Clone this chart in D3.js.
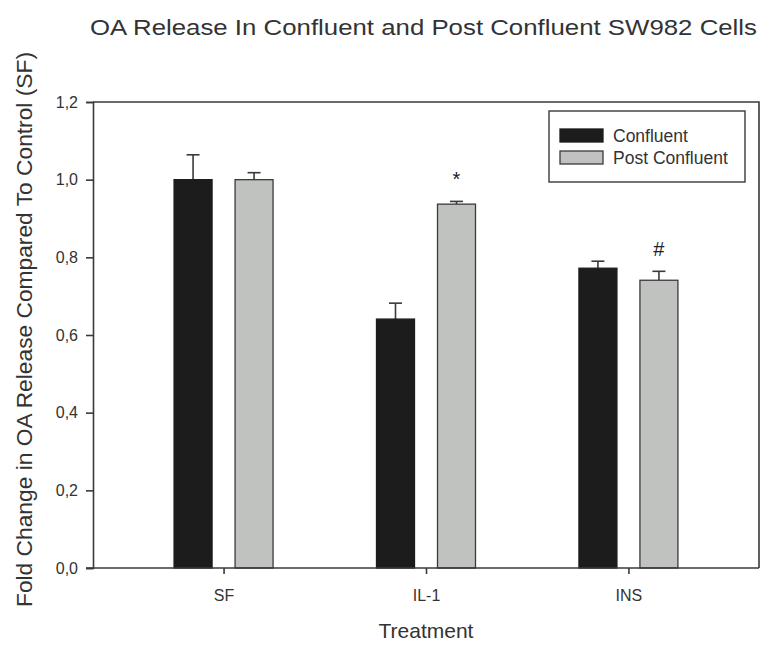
<!DOCTYPE html>
<html>
<head>
<meta charset="utf-8">
<script src="https://cdn.jsdelivr.net/npm/d3@7"></script>
<style>
  html, body { margin: 0; padding: 0; background: #fff; }
  svg { display: block; font-family: "Liberation Sans", Arial, sans-serif; }
</style>
</head>
<body>
<svg id="chart" width="763" height="646"></svg>
<script>
// Treatments and series
const treatments = ["SF", "IL-1", "INS"];
const seriesNames = ["Confluent", "Post Confluent"];
const confluentMean = [1.0, 0.641, 0.772];
const confluentErr = [0.064, 0.041, 0.018];
const postMean = [1.0, 0.937, 0.741];
const postErr = [0.018, 0.007, 0.023];
const significance = ["", "*", "#"];
const yTicks = [0, 0.2, 0.4, 0.6, 0.8, 1.0, 1.2];

const svg = d3.select("#chart");
const plot = { left: 93, right: 759, top: 102, bottom: 568 };
const axisColor = "#3a3a3a";
const textColor = "#333";

const x = d3.scalePoint().domain(treatments).range([plot.left, plot.right]).padding(0.645);
const y = d3.scaleLinear().domain([0, 1.2]).range([plot.bottom, plot.top]);
const barW = 38, offset = 30.5;

const rows = [];
treatments.forEach((t, i) => {
  rows.push({ t, s: 0, v: confluentMean[i], e: confluentErr[i], mark: "" });
  rows.push({ t, s: 1, v: postMean[i], e: postErr[i], mark: significance[i] });
});
const fills = ["#1c1c1c", "#c0c2c0"];
const strokes = ["#1c1c1c", "#3a3a3a"];
const cx = d => x(d.t) + (d.s === 0 ? -offset : offset);

// Error bars (upper only)
const eb = svg.append("g").attr("stroke", axisColor).attr("stroke-width", 1.6);
eb.selectAll("line.v").data(rows).join("line").attr("class", "v")
  .attr("x1", cx).attr("x2", cx)
  .attr("y1", d => y(d.v)).attr("y2", d => y(d.v + d.e));
eb.selectAll("line.c").data(rows).join("line").attr("class", "c")
  .attr("x1", d => cx(d) - 6.5).attr("x2", d => cx(d) + 6.5)
  .attr("y1", d => y(d.v + d.e)).attr("y2", d => y(d.v + d.e));

// Bars
svg.append("g").selectAll("rect").data(rows).join("rect")
  .attr("x", d => cx(d) - barW / 2)
  .attr("y", d => y(d.v))
  .attr("width", barW)
  .attr("height", d => y(0) - y(d.v))
  .attr("fill", d => fills[d.s])
  .attr("stroke", d => strokes[d.s])
  .attr("stroke-width", 1.3);

// Significance marks
svg.append("g").selectAll("text").data(rows.filter(d => d.mark)).join("text")
  .attr("x", cx)
  .attr("y", d => y(d.v + d.e) - 15)
  .attr("text-anchor", "middle")
  .attr("font-size", 20)
  .attr("fill", "#222")
  .text(d => d.mark);

// Frame (top and right)
svg.append("path")
  .attr("d", `M${plot.left},${plot.top}H${plot.right}V${plot.bottom}`)
  .attr("fill", "none").attr("stroke", axisColor).attr("stroke-width", 1.6);

// Y axis
const yAxis = svg.append("g").attr("transform", `translate(${plot.left},0)`)
  .call(d3.axisLeft(y).tickValues(yTicks).tickSize(7).tickPadding(8)
    .tickFormat(d => d3.format(".1f")(d).replace(".", ",")));
yAxis.attr("font-size", null).attr("font-family", null);
yAxis.select(".domain").attr("stroke", axisColor).attr("stroke-width", 1.6);
yAxis.selectAll(".tick line").attr("stroke", axisColor).attr("stroke-width", 1.6);
yAxis.selectAll(".tick text").style("font-size", "16px").attr("fill", textColor);

// X axis
const xAxis = svg.append("g").attr("transform", `translate(0,${plot.bottom})`)
  .call(d3.axisBottom(x).tickSize(6).tickPadding(16));
xAxis.attr("font-size", null).attr("font-family", null);
xAxis.select(".domain").attr("d", `M${plot.left - 7},0H${plot.right}`)
  .attr("stroke", axisColor).attr("stroke-width", 1.6);
xAxis.selectAll(".tick line").attr("stroke", axisColor).attr("stroke-width", 1.6);
xAxis.selectAll(".tick text").style("font-size", "16px").attr("fill", textColor);

// Titles
svg.append("text").attr("x", 90).attr("y", 35)
  .attr("font-size", 22.5).attr("fill", textColor)
  .attr("textLength", 667).attr("lengthAdjust", "spacingAndGlyphs")
  .text("OA Release In Confluent and Post Confluent SW982 Cells");
svg.append("text").attr("x", 426).attr("y", 638)
  .attr("text-anchor", "middle").attr("font-size", 21).attr("fill", textColor)
  .text("Treatment");
svg.append("text")
  .attr("transform", `translate(32,329.5) rotate(-90)`)
  .attr("text-anchor", "middle").attr("font-size", 22).attr("fill", textColor)
  .attr("textLength", 555).attr("lengthAdjust", "spacingAndGlyphs")
  .text("Fold Change in OA Release Compared To Control (SF)");

// Legend
const lg = svg.append("g").attr("transform", "translate(549,111)");
lg.append("rect").attr("width", 196).attr("height", 71)
  .attr("fill", "#fff").attr("stroke", axisColor).attr("stroke-width", 1.4);
seriesNames.forEach((name, i) => {
  lg.append("rect").attr("x", 11).attr("y", 18 + i * 22).attr("width", 43).attr("height", 13)
    .attr("fill", fills[i]).attr("stroke", strokes[i]).attr("stroke-width", 1.3);
  lg.append("text").attr("x", 64).attr("y", 31 + i * 22)
    .attr("font-size", 17.5).attr("fill", textColor).text(name);
});
</script>
</body>
</html>
